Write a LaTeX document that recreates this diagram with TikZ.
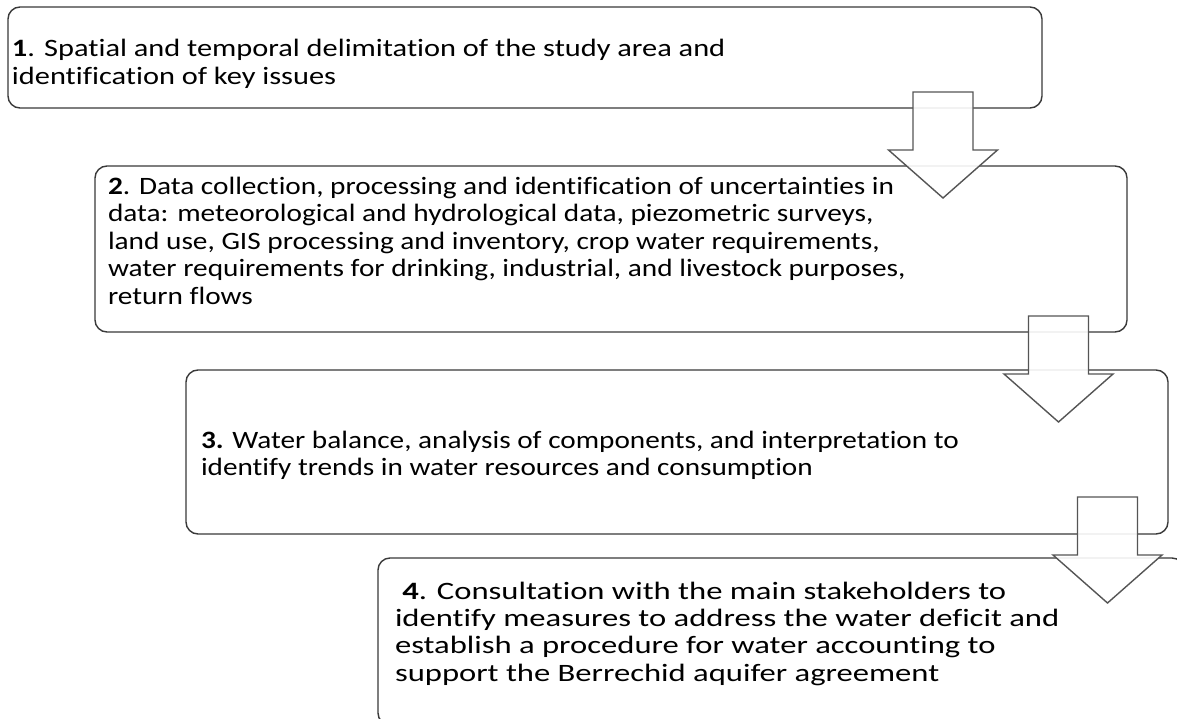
\documentclass[tikz,border=0pt]{standalone}
\usepackage{graphicx}
\usepackage{fontspec}
\setmainfont{Carlito}[Ligatures=NoCommon]
\begin{document}
\begin{tikzpicture}[x=1pt,y=-1pt,
  stepbox/.style={draw=boxline, line width=1.4pt, rounded corners=12pt, inner sep=0pt, outer sep=0pt, anchor=north west},
  txt/.style={inner sep=0pt, outer sep=0pt, anchor=base west, text=black, font=\fontsize{25}{27.4}\selectfont},
  blockarrow/.style={draw=arrowline, line width=1.4pt, fill=white, fill opacity=0.9, line join=miter}]
\definecolor{boxline}{HTML}{3A3A3A}
\definecolor{arrowline}{HTML}{555555}
\fill[white] (0,0) rectangle (1177,719);
\useasboundingbox (0,0) rectangle (1177,719);
\clip (0,0) rectangle (1177,719);
% boxes
\node[stepbox, minimum width=1034pt, minimum height=101pt] (b1) at (8,7) {};
\node[stepbox, minimum width=1032pt, minimum height=166pt] (b2) at (95,166) {};
\node[stepbox, minimum width=982pt, minimum height=164pt] (b3) at (186,370) {};
\node[stepbox, minimum width=806pt, minimum height=167pt] (b4) at (378,558) {};
% texts
\node[txt] (t1) at (12,57) {\scalebox{1.215}[1]{\begin{tabular}[t]{@{}l@{}}\textbf{1}. Spatial and temporal delimitation of the study area and\\identification of key issues\end{tabular}}};
\node[txt] (t2) at (108,194.5) {\scalebox{1.172}[1]{\begin{tabular}[t]{@{}l@{}}\textbf{2}. Data collection, processing and identification of uncertainties in\\data: meteorological and hydrological data, piezometric surveys,\\land use, GIS processing and inventory, crop water requirements,\\water requirements for drinking, industrial, and livestock purposes,\\return flows\end{tabular}}};
\node[txt] (t3) at (201,448) {\scalebox{1.169}[1]{\begin{tabular}[t]{@{}l@{}}\textbf{3.} Water balance, analysis of components, and interpretation to\\identify trends in water resources and consumption\end{tabular}}};
\node[txt] (t4) at (395,599) {\scalebox{1.305}[1]{\begin{tabular}[t]{@{}l@{}}\ \textbf{4}. Consultation with the main stakeholders to\\identify measures to address the water deficit and\\establish a procedure for water accounting to\\support the Berrechid aquifer agreement\end{tabular}}};
% block arrows
\coordinate (a1) at (943,92);
\coordinate (a2) at (1058.5,316);
\coordinate (a3) at (1107.5,497);
\foreach \a in {a1,a2,a3}{
  \draw[blockarrow] (\a) ++(-30,0) -- ++(60,0) -- ++(0,58) -- ++(24.5,0) -- ++(-54.5,48) -- ++(-54.5,-48) -- ++(24.5,0) -- cycle;
}
\end{tikzpicture}
\end{document}
